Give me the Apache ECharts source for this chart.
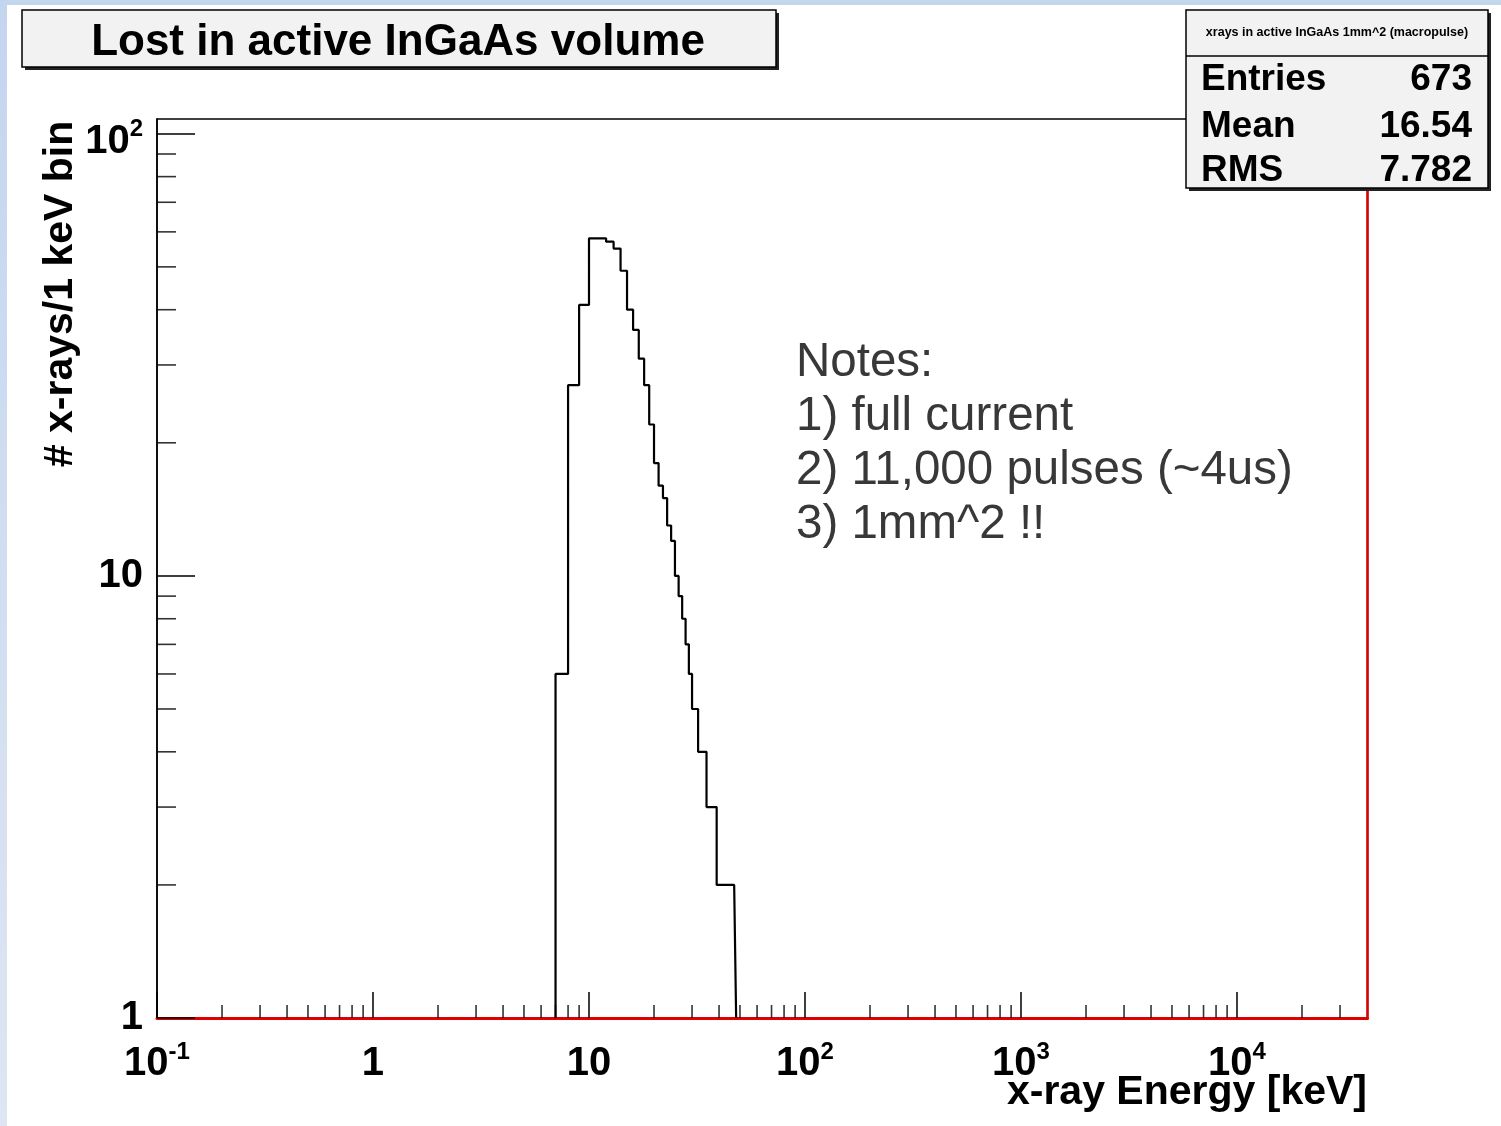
<!DOCTYPE html>
<html><head><meta charset="utf-8">
<script src="https://cdn.jsdelivr.net/npm/echarts@6/dist/echarts.min.js"></script>
<style>html,body{margin:0;padding:0;background:#fff}#c{width:1501px;height:1126px}</style>
</head><body><div id="c"></div>
<script>
// ---- data ----
const binLowEdges = [7,8,9,10,11,12,13,14,15,16,17,18,19,20,21,22,23,24,25,26,27,28,29,30,31,32,33,34,35,36,37,38,39,40,41,42,43,44,45,46,47];
const binCounts   = [6,27,41,58,58,57,55,49,40,36,31,27,22,18,16,15,13,12,10,9,8,7,6,5,5,4,4,4,3,3,3,3,2,2,2,2,2,2,2,2,2];
const binWidth = 1;
const plotTitle = 'Lost in active InGaAs volume';
const statsTitle = 'xrays in active InGaAs 1mm^2 (macropulse)';
const statsNames = ['Entries', 'Mean', 'RMS'];
const statsValues = ['673', '16.54', '7.782'];
const xAxisTitle = 'x-ray Energy [keV]';
const yAxisTitle = '# x-rays/1 keV bin';
const notesLines = ['Notes:', '1) full current', '2) 11,000 pulses (~4us)', '3) 1mm^2 !!'];
const xRange = [0.1, 40200];
const yRange = [1, 108];
const minorMultipliers = [2,3,4,5,6,7,8,9];
const xDecades = [0.1, 1, 10, 100, 1000, 10000];
const yDecades = [1, 10];

// ---- build ----
const FONT = '"Liberation Sans", Arial, Helvetica, sans-serif';
const histData = [[binLowEdges[0], yRange[0]]];
binLowEdges.forEach((x, i) => histData.push([x, binCounts[i]]));
const lastEdge = binLowEdges[binLowEdges.length - 1] + binWidth;
histData.push([lastEdge, binCounts[binCounts.length - 1]]);
histData.push([lastEdge, yRange[0]]);

const xMinor = [];
xDecades.forEach(d => minorMultipliers.forEach(m => { const v = m * d; if (v < xRange[1] * 0.95) xMinor.push(v); }));
const yMinor = [];
yDecades.forEach(d => minorMultipliers.forEach(m => { const v = m * d; if (v < yRange[1]) yMinor.push(v); }));

function fmtLog(v) {
  const e = Math.round(Math.log10(v));
  const p = Math.pow(10, e);
  if (Math.abs(v - p) > 1e-6 * p) return '';
  if (e === 0) return '{b|1}';
  if (e === 1) return '{b|10}';
  return '{b|10}{s|' + e + '}';
}
const richLab = {
  b: { fontSize: 40, fontWeight: 'bold', fontFamily: FONT, color: '#000', lineHeight: 48 },
  s: { fontSize: 24, fontWeight: 'bold', fontFamily: FONT, color: '#000', lineHeight: 26, verticalAlign: 'top' }
};
const richLabY = {
  b: { fontSize: 40, fontWeight: 'bold', fontFamily: FONT, color: '#000', lineHeight: 40, verticalAlign: 'bottom' },
  s: { fontSize: 24, fontWeight: 'bold', fontFamily: FONT, color: '#000', lineHeight: 56, verticalAlign: 'top', padding: [12, 0, 0, 0] }
};

const chart = echarts.init(document.getElementById('c'), null, { renderer: 'canvas' });
const option = {
  animation: false,
  backgroundColor: '#fff',
  grid: { left: 157, right: 133.5, top: 119, bottom: 108, show: true, borderColor: '#000', borderWidth: 1.5, backgroundColor: 'transparent' },
  xAxis: {
    type: 'log', logBase: 10, min: xRange[0], max: xRange[1],
    axisLine: { show: true, lineStyle: { color: '#e00000', width: 3 } },
    axisTick: { show: true, inside: true, length: 26, lineStyle: { color: '#000', width: 1.5 } },
    axisLabel: { margin: 22, formatter: fmtLog, rich: richLab, showMaxLabel: false },
    splitLine: { show: false }
  },
  yAxis: [{
    type: 'log', logBase: 10, min: yRange[0], max: yRange[1],
    axisLine: { show: true, lineStyle: { color: '#000', width: 1.5 } },
    axisTick: { show: true, inside: true, length: 38, lineStyle: { color: '#000', width: 1.5 } },
    axisLabel: { margin: 14, formatter: fmtLog, rich: richLabY, showMaxLabel: false },
    splitLine: { show: false }
  }, {
    type: 'value', position: 'right', min: 0, max: 1,
    axisLine: { show: true, lineStyle: { color: '#e00000', width: 2.5 } },
    axisTick: { show: false }, axisLabel: { show: false }, splitLine: { show: false }
  }],
  series: [
    {
      type: 'line', step: 'end', data: histData, symbol: 'none', silent: true,
      lineStyle: { color: '#000', width: 2.2 }, z: 3
    },
    {
      type: 'scatter', data: xMinor.map(v => [v, yRange[0]]), symbol: 'rect',
      symbolSize: [1.6, 13], symbolOffset: [0, -6.5], itemStyle: { color: '#000' }, silent: true, clip: false, z: 4
    },
    {
      type: 'scatter', data: yMinor.map(v => [xRange[0], v]), symbol: 'rect',
      symbolSize: [19, 1.6], symbolOffset: [9.5, 0], itemStyle: { color: '#000' }, silent: true, clip: false, z: 4
    }
  ],
  graphic: [
    { type: 'rect', z: 0, shape: { x: 0, y: 0, width: 7, height: 1126 },
      style: { fill: new echarts.graphic.LinearGradient(0, 0, 0, 1, [{ offset: 0, color: '#c3d6ee' }, { offset: 1, color: '#dde6f2' }]) } },
    { type: 'rect', z: 0, shape: { x: 0, y: 0, width: 1501, height: 5 }, style: { fill: '#c3d6ee' } },
    // title box
    { type: 'rect', z: 50, shape: { x: 25, y: 13, width: 754, height: 57 }, style: { fill: '#222' } },
    { type: 'rect', z: 51, shape: { x: 22, y: 10, width: 754, height: 57 }, style: { fill: '#f2f2f2', stroke: '#000', lineWidth: 1.5 } },
    { type: 'text', z: 52, x: 398, y: 43, style: { text: plotTitle, fontSize: 44, fontWeight: 'bold', fontFamily: FONT, fill: '#000', align: 'center', verticalAlign: 'middle' } },
    // stats box
    { type: 'rect', z: 50, shape: { x: 1189, y: 13, width: 302, height: 178 }, style: { fill: '#222' } },
    { type: 'rect', z: 51, shape: { x: 1186, y: 10, width: 302, height: 178 }, style: { fill: '#f2f2f2', stroke: '#000', lineWidth: 1.5 } },
    { type: 'line', z: 52, shape: { x1: 1186, y1: 56, x2: 1488, y2: 56 }, style: { stroke: '#000', lineWidth: 1.5 } },
    { type: 'text', z: 52, x: 1337, y: 33, style: { text: statsTitle, fontSize: 12.5, fontWeight: 'bold', fontFamily: FONT, fill: '#000', align: 'center', verticalAlign: 'middle' } },
    ...statsNames.map((n, i) => ({ type: 'text', z: 52, x: 1201, y: [80, 127, 171][i], style: { text: n, fontSize: 37, fontWeight: 'bold', fontFamily: FONT, fill: '#000', align: 'left', verticalAlign: 'middle' } })),
    ...statsValues.map((n, i) => ({ type: 'text', z: 52, x: 1472, y: [80, 127, 171][i], style: { text: n, fontSize: 37, fontWeight: 'bold', fontFamily: FONT, fill: '#000', align: 'right', verticalAlign: 'middle' } })),
    // axis titles
    { type: 'text', z: 20, x: 1367, y: 1093, style: { text: xAxisTitle, fontSize: 41, fontWeight: 'bold', fontFamily: FONT, fill: '#000', align: 'right', verticalAlign: 'middle' } },
    { type: 'text', z: 20, x: 61, y: 294, rotation: Math.PI / 2, style: { text: yAxisTitle, fontSize: 41, fontWeight: 'bold', fontFamily: FONT, fill: '#000', align: 'center', verticalAlign: 'middle' } },
    // notes
    ...notesLines.map((t, i) => ({ type: 'text', z: 20, x: 796, y: 363 + i * 54, style: { text: t, fontSize: 47.5, fontFamily: FONT, fill: '#383838', align: 'left', verticalAlign: 'middle' } }))
  ]
};
chart.setOption(option);
</script>
</body></html>
